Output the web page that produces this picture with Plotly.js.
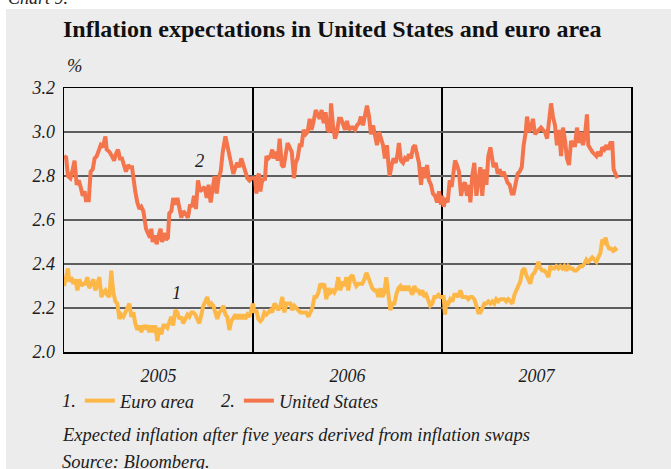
<!DOCTYPE html>
<html>
<head>
<meta charset="utf-8">
<script src="https://cdn.plot.ly/plotly-3.0.1.min.js"></script>
<style>
  html, body { margin:0; padding:0; background:#ffffff; width:671px; height:469px; overflow:hidden; position:relative; }
  #chartno { position:absolute; left:8px; top:-11px; font-family:"Liberation Serif", serif; font-style:italic; font-size:18px; line-height:18px; color:#222; }
  #plot { position:absolute; left:6px; top:9px; width:665px; height:460px; }
</style>
</head>
<body>
<div id="chartno">Chart 9.</div>
<div id="plot"></div>
<script>
// ---- Data (time as decimal-year fraction within each year; values in %) ----
const seriesNames = ['Euro area', 'United States'];
const yearLabels = ['2005', '2006', '2007'];

// United States
const usT2005 = [0.000,0.011,0.021,0.034,0.046,0.056,0.067,0.078,0.088,0.099,0.109,0.116,0.131,0.141,0.152,0.162,0.173,0.183,0.194,0.205,0.219,0.226,0.240,0.254,0.265,0.275,0.286,0.296,0.307,0.317,0.328,0.339,0.349,0.360,0.369,0.377,0.388,0.399,0.409,0.420,0.427,0.434,0.444,0.455,0.462,0.469,0.480,0.490,0.501,0.511,0.519,0.529,0.540,0.550,0.557,0.568,0.578,0.589,0.600,0.610,0.621,0.631,0.642,0.656,0.667,0.677,0.688,0.698,0.709,0.720,0.730,0.744,0.755,0.765,0.776,0.787,0.797,0.808,0.818,0.829,0.840,0.854,0.864,0.875,0.885,0.896,0.907,0.917,0.928,0.938,0.949,0.959,0.970,0.981,0.991];
const usV2005 = [2.89,2.885,2.80,2.79,2.83,2.87,2.76,2.78,2.75,2.71,2.73,2.69,2.69,2.82,2.83,2.88,2.89,2.91,2.94,2.93,2.98,2.92,2.91,2.89,2.87,2.90,2.92,2.88,2.88,2.85,2.82,2.85,2.84,2.84,2.76,2.73,2.68,2.65,2.66,2.64,2.60,2.56,2.54,2.52,2.56,2.50,2.53,2.49,2.53,2.56,2.50,2.54,2.51,2.52,2.63,2.64,2.70,2.67,2.70,2.65,2.61,2.64,2.63,2.61,2.67,2.66,2.71,2.65,2.78,2.73,2.74,2.75,2.70,2.76,2.68,2.74,2.80,2.72,2.79,2.82,2.91,2.98,2.94,2.88,2.85,2.81,2.84,2.86,2.84,2.88,2.85,2.82,2.79,2.78,2.79];
const usT2006 = [0.000,0.011,0.018,0.025,0.032,0.039,0.046,0.056,0.063,0.071,0.081,0.092,0.102,0.109,0.120,0.131,0.141,0.152,0.162,0.173,0.183,0.194,0.205,0.217,0.226,0.236,0.247,0.257,0.268,0.279,0.289,0.300,0.310,0.321,0.332,0.342,0.353,0.363,0.374,0.384,0.395,0.406,0.413,0.423,0.434,0.444,0.455,0.466,0.476,0.487,0.497,0.508,0.519,0.529,0.540,0.550,0.561,0.571,0.582,0.593,0.603,0.614,0.624,0.635,0.646,0.656,0.667,0.677,0.688,0.698,0.709,0.716,0.723,0.734,0.744,0.755,0.765,0.772,0.783,0.794,0.804,0.815,0.825,0.836,0.847,0.857,0.868,0.878,0.889,0.899,0.910,0.921,0.931,0.942,0.952,0.963,0.974,0.984,0.995];
const usV2006 = [2.79,2.79,2.72,2.80,2.81,2.73,2.77,2.79,2.78,2.89,2.88,2.89,2.92,2.88,2.91,2.87,2.97,2.85,2.84,2.91,2.95,2.93,2.91,2.79,2.86,2.88,2.94,2.94,3.01,2.99,3.00,3.06,3.01,3.05,3.10,3.08,3.06,3.10,3.04,3.09,3.01,3.00,3.13,3.03,2.97,3.00,3.06,3.06,3.03,3.01,3.05,3.01,3.02,3.02,3.01,3.03,3.04,3.07,3.03,3.08,3.12,3.07,2.99,3.03,2.98,2.94,3.00,2.97,2.94,2.88,2.94,2.86,2.80,2.85,2.88,2.86,2.90,2.95,2.87,2.86,2.88,2.87,2.90,2.88,2.93,2.94,2.89,2.86,2.76,2.84,2.79,2.85,2.78,2.76,2.72,2.71,2.68,2.73,2.67];
const usT2007 = [0.000,0.009,0.019,0.030,0.041,0.051,0.058,0.069,0.079,0.090,0.101,0.111,0.122,0.132,0.143,0.150,0.160,0.171,0.182,0.192,0.203,0.213,0.224,0.235,0.245,0.256,0.263,0.273,0.284,0.295,0.305,0.316,0.326,0.337,0.347,0.358,0.369,0.379,0.390,0.400,0.411,0.422,0.432,0.443,0.450,0.460,0.471,0.481,0.492,0.503,0.513,0.524,0.534,0.545,0.556,0.566,0.577,0.587,0.598,0.608,0.619,0.630,0.640,0.651,0.661,0.672,0.683,0.693,0.704,0.714,0.725,0.735,0.746,0.757,0.767,0.774,0.785,0.795,0.806,0.817,0.827,0.838,0.848,0.859,0.870,0.880,0.891,0.901,0.908,0.919,0.928];
const usV2007 = [2.71,2.66,2.70,2.68,2.78,2.75,2.81,2.87,2.85,2.82,2.71,2.76,2.77,2.71,2.76,2.68,2.80,2.86,2.71,2.77,2.84,2.71,2.83,2.76,2.89,2.93,2.88,2.84,2.86,2.81,2.83,2.80,2.82,2.79,2.77,2.76,2.72,2.72,2.76,2.81,2.82,2.84,2.94,3.00,3.07,3.00,3.02,3.06,2.99,3.00,3.01,3.02,3.01,3.00,2.97,3.06,3.13,3.07,3.03,2.94,3.01,2.89,3.02,2.96,2.88,2.85,2.96,2.94,2.94,3.02,2.95,3.00,2.94,2.99,3.08,2.94,2.92,2.91,2.90,2.89,2.91,2.89,2.93,2.92,2.94,2.92,2.95,2.95,2.83,2.81,2.79];

// Euro area
const euT2005 = [0.000,0.011,0.021,0.028,0.039,0.049,0.060,0.071,0.081,0.092,0.102,0.113,0.123,0.134,0.145,0.155,0.166,0.176,0.187,0.198,0.208,0.219,0.229,0.240,0.250,0.261,0.272,0.282,0.293,0.303,0.314,0.325,0.335,0.346,0.356,0.367,0.377,0.388,0.399,0.409,0.420,0.430,0.441,0.451,0.462,0.473,0.483,0.494,0.504,0.515,0.526,0.536,0.547,0.557,0.568,0.578,0.589,0.600,0.610,0.621,0.631,0.642,0.653,0.663,0.674,0.684,0.695,0.705,0.716,0.727,0.737,0.748,0.758,0.769,0.780,0.790,0.801,0.811,0.822,0.832,0.843,0.854,0.864,0.875,0.885,0.896,0.907,0.917,0.928,0.938,0.949,0.959,0.970,0.981,0.991];
const euV2005 = [2.30,2.34,2.38,2.32,2.34,2.31,2.33,2.28,2.33,2.30,2.31,2.31,2.34,2.29,2.31,2.33,2.28,2.31,2.34,2.25,2.27,2.28,2.26,2.25,2.37,2.27,2.23,2.22,2.15,2.17,2.16,2.18,2.20,2.22,2.16,2.18,2.13,2.10,2.12,2.09,2.12,2.11,2.12,2.09,2.12,2.09,2.12,2.05,2.11,2.08,2.12,2.12,2.11,2.14,2.16,2.12,2.19,2.18,2.15,2.16,2.13,2.15,2.17,2.16,2.18,2.18,2.17,2.15,2.13,2.17,2.21,2.23,2.25,2.21,2.22,2.21,2.18,2.15,2.18,2.19,2.21,2.17,2.16,2.10,2.14,2.16,2.17,2.15,2.17,2.15,2.17,2.15,2.17,2.16,2.19];
const euT2006 = [0.000,0.007,0.018,0.028,0.039,0.049,0.060,0.071,0.081,0.092,0.102,0.113,0.123,0.134,0.145,0.155,0.166,0.176,0.187,0.198,0.208,0.219,0.229,0.240,0.250,0.261,0.272,0.282,0.293,0.303,0.314,0.325,0.335,0.346,0.356,0.367,0.377,0.388,0.399,0.409,0.420,0.430,0.441,0.451,0.462,0.473,0.483,0.494,0.504,0.515,0.526,0.536,0.547,0.557,0.568,0.578,0.589,0.600,0.610,0.621,0.631,0.642,0.653,0.663,0.674,0.684,0.695,0.705,0.716,0.727,0.737,0.748,0.758,0.769,0.780,0.790,0.801,0.811,0.822,0.832,0.843,0.854,0.864,0.875,0.885,0.896,0.907,0.917,0.928,0.938,0.949,0.959,0.970,0.981,0.991];
const euV2006 = [2.22,2.18,2.19,2.15,2.14,2.15,2.18,2.17,2.18,2.19,2.18,2.22,2.21,2.19,2.21,2.25,2.18,2.22,2.22,2.22,2.19,2.21,2.20,2.19,2.18,2.18,2.18,2.18,2.16,2.18,2.20,2.25,2.25,2.27,2.31,2.30,2.31,2.24,2.29,2.27,2.28,2.27,2.29,2.34,2.28,2.32,2.30,2.34,2.28,2.34,2.35,2.32,2.30,2.31,2.31,2.31,2.33,2.36,2.34,2.31,2.29,2.28,2.28,2.25,2.29,2.25,2.27,2.34,2.26,2.19,2.22,2.22,2.26,2.29,2.30,2.28,2.30,2.28,2.30,2.28,2.26,2.30,2.28,2.28,2.26,2.28,2.25,2.26,2.23,2.21,2.22,2.25,2.25,2.26,2.25];
const euT2007 = [0.000,0.009,0.016,0.023,0.034,0.044,0.055,0.065,0.076,0.086,0.097,0.108,0.118,0.129,0.139,0.150,0.160,0.171,0.182,0.192,0.203,0.213,0.224,0.235,0.245,0.256,0.266,0.277,0.287,0.298,0.309,0.319,0.330,0.340,0.351,0.362,0.372,0.383,0.393,0.404,0.414,0.425,0.436,0.446,0.457,0.467,0.478,0.489,0.499,0.510,0.520,0.531,0.541,0.552,0.563,0.573,0.584,0.594,0.605,0.616,0.626,0.637,0.647,0.658,0.668,0.679,0.690,0.700,0.711,0.721,0.732,0.743,0.753,0.764,0.774,0.785,0.795,0.806,0.817,0.827,0.838,0.848,0.859,0.866,0.873,0.884,0.894,0.905,0.915,0.926];
const euV2007 = [2.25,2.25,2.17,2.23,2.22,2.24,2.23,2.26,2.26,2.25,2.28,2.25,2.25,2.25,2.24,2.25,2.25,2.24,2.21,2.18,2.18,2.20,2.22,2.22,2.23,2.22,2.23,2.22,2.24,2.23,2.24,2.24,2.24,2.23,2.24,2.23,2.22,2.26,2.28,2.31,2.32,2.37,2.38,2.35,2.33,2.31,2.35,2.36,2.38,2.41,2.38,2.37,2.37,2.36,2.34,2.39,2.38,2.38,2.39,2.38,2.39,2.38,2.39,2.37,2.39,2.38,2.38,2.37,2.37,2.38,2.39,2.39,2.40,2.42,2.41,2.42,2.43,2.42,2.41,2.43,2.45,2.51,2.50,2.52,2.49,2.47,2.47,2.46,2.47,2.46];

const seriesLabelPos = { us: [2005.718, 2.868], eu: [2005.596, 2.27] };
const yearBoundaries = [2006, 2007];
const yearCentres = [2005.5, 2006.5, 2007.5];
const emphasisLevel = 2.4;

// ---- Build ----
function join(parts) {
  const x = [], y = [];
  parts.forEach(([year, t, v]) => { t.forEach((f, i) => { x.push(year + f); y.push(v[i]); }); });
  return { x, y };
}
const eu = join([[2005, euT2005, euV2005], [2006, euT2006, euV2006], [2007, euT2007, euV2007]]);
const us = join([[2005, usT2005, usV2005], [2006, usT2006, usV2006], [2007, usT2007, usV2007]]);

const cEU = '#fdb747', cUS = '#f4744b';
const serif = '"Liberation Serif", "Times New Roman", serif';

const traces = [
  { x: eu.x, y: eu.y, name: seriesNames[0], type: 'scatter', mode: 'lines', line: { color: cEU, width: 4 }, hoverinfo: 'skip' },
  { x: us.x, y: us.y, name: seriesNames[1], type: 'scatter', mode: 'lines', line: { color: cUS, width: 4 }, hoverinfo: 'skip' }
];

const tickTxt = { family: serif, size: 18, color: '#1c1c1c', style: 'italic' };
const txt = { family: serif, size: 18.5, color: '#1c1c1c', style: 'italic' };

const layout = {
  width: 665, height: 460,
  paper_bgcolor: '#ececec', plot_bgcolor: '#ececec',
  margin: { l: 58, r: 40, t: 79, b: 117 },
  font: txt,
  showlegend: true,
  title: {
    text: 'Inflation expectations in United States and euro area',
    font: { family: serif, size: 24, weight: 'bold', style: 'normal', color: '#111' },
    xref: 'container', yref: 'container', x: 57 / 665, xanchor: 'left', y: 1 - 20 / 460, yanchor: 'middle'
  },
  xaxis: {
    range: [2005, 2008], tickmode: 'array', tickvals: yearCentres, ticktext: yearLabels,
    showgrid: false, zeroline: false, ticks: 'outside', ticklen: 7, tickcolor: 'rgba(0,0,0,0)',
    showline: true, linecolor: '#000', linewidth: 1.5, mirror: true, tickfont: tickTxt,
    minor: { tickmode: 'array', tickvals: yearBoundaries, showgrid: true, gridcolor: '#000', gridwidth: 1.3, ticks: '' }
  },
  yaxis: {
    range: [2.0, 3.2], tick0: 2.0, dtick: 0.2, tickformat: '.1f',
    showgrid: true, gridcolor: '#5e5e5e', gridwidth: 1.5, zeroline: false,
    ticks: 'outside', ticklen: 4, tickcolor: 'rgba(0,0,0,0)',
    showline: true, linecolor: '#000', linewidth: 1.5, mirror: true, tickfont: tickTxt
  },
  shapes: [
    { type: 'line', xref: 'paper', x0: 0, x1: 1, yref: 'y', y0: emphasisLevel, y1: emphasisLevel, line: { color: '#000', width: 1.6 }, layer: 'below' }
  ],
  legend: {
    orientation: 'h', x: 0.028, xanchor: 'left', y: -0.186, yanchor: 'middle',
    font: txt, bgcolor: 'rgba(0,0,0,0)', itemwidth: 30, entrywidth: 114, entrywidthmode: 'pixels',
    traceorder: 'normal', tracegroupgap: 0
  },
  annotations: [
    { text: '%', xref: 'paper', yref: 'paper', x: 0.002, y: 1.083, xanchor: 'left', yanchor: 'middle', showarrow: false, font: txt },
    { text: '2', xref: 'x', yref: 'y', x: seriesLabelPos.us[0], y: seriesLabelPos.us[1], showarrow: false, font: txt },
    { text: '1', xref: 'x', yref: 'y', x: seriesLabelPos.eu[0], y: seriesLabelPos.eu[1], showarrow: false, font: txt },
    { text: '1.', xref: 'paper', yref: 'paper', x: -0.007, y: -0.186, xanchor: 'left', yanchor: 'middle', showarrow: false, font: txt },
    { text: '2.', xref: 'paper', yref: 'paper', x: 0.274, y: -0.186, xanchor: 'left', yanchor: 'middle', showarrow: false, font: txt },
    { text: 'Expected inflation after five years derived from inflation swaps', xref: 'paper', yref: 'paper', x: -0.007, y: -0.314, xanchor: 'left', yanchor: 'middle', showarrow: false, font: txt },
    { text: 'Source: Bloomberg.', xref: 'paper', yref: 'paper', x: -0.007, y: -0.417, xanchor: 'left', yanchor: 'middle', showarrow: false, font: txt }
  ]
};

Plotly.newPlot('plot', traces, layout, { displayModeBar: false, staticPlot: true });
</script>
</body>
</html>
